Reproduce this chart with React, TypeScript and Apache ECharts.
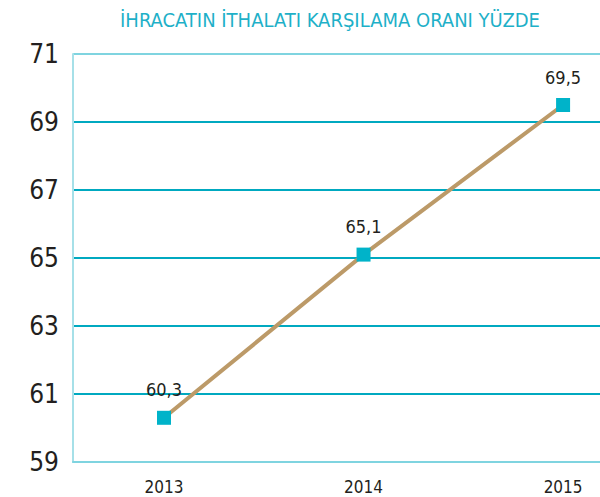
import React, { useEffect, useRef } from "react";
import * as echarts from "echarts";

const titleText = "İHRACATIN İTHALATI KARŞILAMA ORANI YÜZDE";
const years = [2013, 2014, 2015];
const ratios = [60.3, 65.1, 69.5];
const yTicks = { min: 59, max: 71, interval: 2 };

const FONT = '"Liberation Sans Narrow", "DejaVu Sans Condensed", "Roboto", sans-serif';

export default function App() {
  const ref = useRef<HTMLDivElement>(null);
  useEffect(() => {
    document.body.style.margin = "0";
    if (!ref.current) return;
    const chart = echarts.init(ref.current, undefined, { renderer: "svg" });
    const data = years.map((y, i) => [y, ratios[i]]);
    chart.setOption({
      animation: false,
      backgroundColor: "#ffffff",
      textStyle: { fontFamily: FONT },
      graphic: [
        {
          type: "text",
          x: 330,
          y: 20,
          style: {
            text: titleText,
            fontFamily: FONT,
            fontSize: 20,
            fill: "#1eb0c8",
            textAlign: "center",
            textVerticalAlign: "middle",
          },
        },
      ],
      grid: { left: 73, right: 0, top: 54, bottom: 35 },
      xAxis: {
        type: "value",
        min: 2012.544,
        max: 2015.185,
        splitLine: { show: false },
        axisTick: { show: false },
        axisLine: { show: true, lineStyle: { color: "#7fd4e0", width: 2 } },
        axisLabel: {
          customValues: years,
          formatter: (v: number) => String(v),
          fontFamily: FONT,
          fontSize: 17,
          color: "#231f20",
          margin: 16,
        },
      },
      yAxis: {
        type: "value",
        min: yTicks.min,
        max: yTicks.max,
        interval: yTicks.interval,
        axisLine: { show: true, lineStyle: { color: "#a6e0e8", width: 2 } },
        axisTick: { show: false },
        axisLabel: {
          fontFamily: FONT,
          fontSize: 26,
          color: "#231f20",
          margin: 14,
        },
        splitLine: {
          show: true,
          lineStyle: {
            color: ["#7fd4e0", "#00a9c0", "#00a9c0", "#00a9c0", "#00a9c0", "#00a9c0", "#7fd4e0"],
            width: 2,
          },
        },
      },
      series: [
        {
          type: "line",
          data,
          symbol: "rect",
          symbolSize: 14,
          lineStyle: { color: "#bc9a68", width: 4 },
          itemStyle: { color: "#00b3c9" },
          z: 3,
          label: {
            show: true,
            position: "top",
            distance: 12,
            fontFamily: FONT,
            fontSize: 18,
            color: "#231f20",
            formatter: (p: any) => String(p.value[1]).replace(".", ","),
          },
        },
      ],
    });
    return () => chart.dispose();
  }, []);
  return <div ref={ref} style={{ width: 600, height: 497 }} />;
}
